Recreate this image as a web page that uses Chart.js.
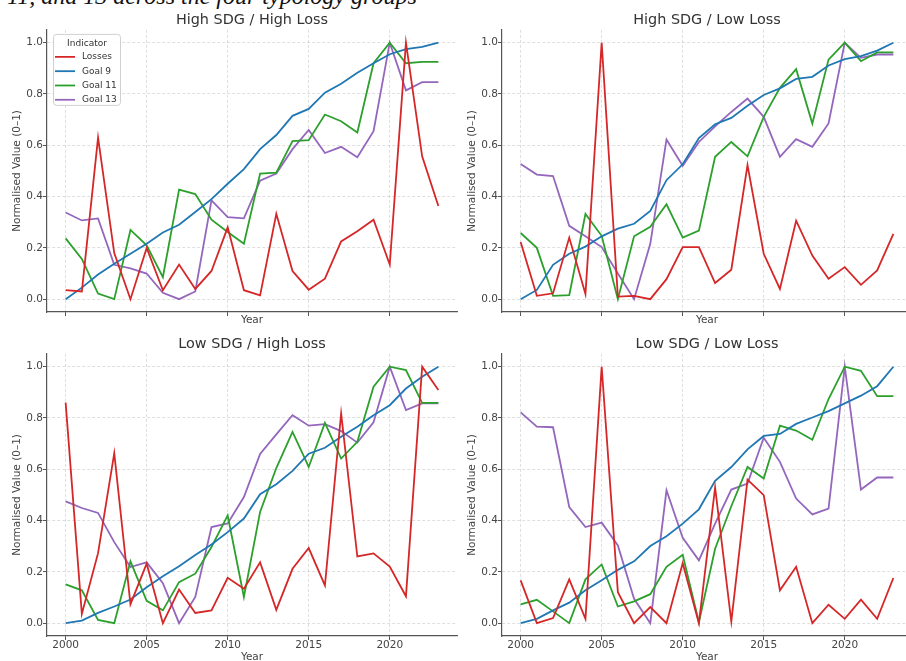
<!DOCTYPE html>
<html>
<head>
<meta charset="utf-8">
<script src="https://cdn.jsdelivr.net/npm/chart.js@4.4.1/dist/chart.umd.min.js"></script>
<style>
  html, body { margin: 0; padding: 0; background: #fff; }
  body { width: 906px; height: 661px; position: relative; overflow: hidden; }
  canvas { position: absolute; }
  #suptitle { position: absolute; left: 7px; top: -16px; font: italic 24px/24px "Liberation Serif", serif; color: #111; white-space: nowrap; }
</style>
</head>
<body>
<div id="suptitle">11, and 13 across the four typology groups</div>
<canvas id="hh" width="458" height="330" style="left:0;top:0"></canvas>
<canvas id="hl" width="458" height="330" style="left:455px;top:0"></canvas>
<canvas id="lh" width="458" height="342" style="left:0;top:324px"></canvas>
<canvas id="ll" width="458" height="342" style="left:455px;top:324px"></canvas>
<script>
const years = [2000, 2001, 2002, 2003, 2004, 2005, 2006, 2007, 2008, 2009, 2010, 2011,
               2012, 2013, 2014, 2015, 2016, 2017, 2018, 2019, 2020, 2021, 2022, 2023];
const xTicks = [2000, 2005, 2010, 2015, 2020];
const yTicks = [0, 0.2, 0.4, 0.6, 0.8, 1.0];
const seriesNames = ['Losses', 'Goal 9', 'Goal 11', 'Goal 13'];

// High SDG / High Loss
const hhLosses = [0.035, 0.03, 0.63, 0.18, 0.0, 0.2, 0.035, 0.135, 0.04, 0.11, 0.28, 0.035,
                  0.015, 0.333, 0.11, 0.037, 0.08, 0.225, 0.265, 0.31, 0.135, 1.0, 0.557, 0.363];
const hhGoal9 = [0.0, 0.045, 0.096, 0.138, 0.177, 0.216, 0.26, 0.29, 0.34, 0.39, 0.45, 0.507,
                 0.585, 0.64, 0.715, 0.742, 0.805, 0.84, 0.883, 0.92, 0.955, 0.975, 0.984, 1.0];
const hhGoal11 = [0.237, 0.157, 0.022, 0.0, 0.27, 0.21, 0.086, 0.427, 0.41, 0.31, 0.262, 0.216,
                  0.49, 0.493, 0.616, 0.62, 0.72, 0.694, 0.65, 0.92, 1.0, 0.92, 0.925, 0.925];
const hhGoal13 = [0.338, 0.307, 0.315, 0.134, 0.12, 0.1, 0.025, 0.0, 0.03, 0.385, 0.32, 0.315,
                  0.462, 0.49, 0.585, 0.66, 0.57, 0.594, 0.553, 0.655, 1.0, 0.814, 0.846, 0.846];

// High SDG / Low Loss
const hlLosses = [0.223, 0.013, 0.023, 0.24, 0.02, 1.0, 0.01, 0.013, 0.0, 0.078, 0.203, 0.203,
                  0.063, 0.115, 0.523, 0.177, 0.04, 0.306, 0.17, 0.08, 0.125, 0.056, 0.112, 0.255];
const hlGoal9 = [0.0, 0.036, 0.134, 0.177, 0.205, 0.245, 0.275, 0.294, 0.344, 0.464, 0.526, 0.628,
                 0.682, 0.707, 0.754, 0.796, 0.822, 0.859, 0.867, 0.911, 0.936, 0.948, 0.969, 1.0];
const hlGoal11 = [0.258, 0.2, 0.013, 0.016, 0.332, 0.247, 0.0, 0.245, 0.282, 0.37, 0.24, 0.267,
                  0.555, 0.613, 0.557, 0.711, 0.824, 0.897, 0.685, 0.934, 1.0, 0.928, 0.962, 0.962];
const hlGoal13 = [0.527, 0.486, 0.48, 0.286, 0.245, 0.203, 0.1, 0.0, 0.216, 0.622, 0.52, 0.613,
                  0.674, 0.73, 0.782, 0.711, 0.555, 0.624, 0.594, 0.685, 1.0, 0.941, 0.954, 0.954];

// Low SDG / High Loss
const lhLosses = [0.86, 0.036, 0.273, 0.663, 0.074, 0.232, 0.0, 0.131, 0.04, 0.05, 0.177, 0.134,
                  0.237, 0.052, 0.212, 0.293, 0.147, 0.818, 0.26, 0.272, 0.221, 0.105, 1.0, 0.909];
const lhGoal9 = [0.0, 0.01, 0.04, 0.065, 0.092, 0.14, 0.183, 0.222, 0.266, 0.307, 0.355, 0.408,
                 0.503, 0.542, 0.594, 0.661, 0.684, 0.727, 0.766, 0.811, 0.85, 0.915, 0.961, 1.0];
const lhGoal11 = [0.151, 0.128, 0.013, 0.0, 0.241, 0.087, 0.05, 0.16, 0.193, 0.297, 0.42, 0.102,
                  0.434, 0.605, 0.746, 0.609, 0.781, 0.642, 0.707, 0.922, 1.0, 0.987, 0.859, 0.859];
const lhGoal13 = [0.475, 0.449, 0.43, 0.316, 0.219, 0.237, 0.156, 0.0, 0.102, 0.375, 0.389, 0.492,
                  0.66, 0.736, 0.811, 0.77, 0.776, 0.749, 0.704, 0.783, 1.0, 0.831, 0.857, 0.857];

// Low SDG / Low Loss
const llLosses = [0.167, 0.0, 0.02, 0.171, 0.017, 1.0, 0.121, 0.0, 0.063, 0.0, 0.234, 0.0,
                  0.529, 0.006, 0.56, 0.499, 0.128, 0.22, 0.0, 0.072, 0.017, 0.092, 0.017, 0.176];
const llGoal9 = [0.0, 0.017, 0.05, 0.08, 0.128, 0.167, 0.208, 0.241, 0.301, 0.339, 0.388, 0.444,
                 0.555, 0.609, 0.678, 0.73, 0.738, 0.777, 0.802, 0.827, 0.857, 0.887, 0.924, 1.0];
const llGoal11 = [0.073, 0.091, 0.046, 0.0, 0.171, 0.229, 0.065, 0.085, 0.113, 0.22, 0.267, 0.004,
                  0.29, 0.456, 0.609, 0.564, 0.77, 0.751, 0.715, 0.874, 1.0, 0.984, 0.885, 0.885];
const llGoal13 = [0.822, 0.766, 0.764, 0.453, 0.375, 0.392, 0.303, 0.095, 0.0, 0.518, 0.333, 0.245,
                  0.388, 0.521, 0.544, 0.723, 0.629, 0.486, 0.424, 0.447, 1.0, 0.521, 0.568, 0.568];

const colors = ['#d62728', '#1f77b4', '#2ca02c', '#9467bd'];
Chart.defaults.font.family = '"DejaVu Sans", sans-serif';

// matplotlib-style legend box inside the axes, drawn on top
const legendBox = {
  id: 'legendBox',
  afterDraw(chart, args, opts) {
    if (!opts.show) return;
    const ctx = chart.ctx;
    const a = chart.chartArea;
    const x = a.left + 6.5, y = a.top + 4.5, w = 67, h = 71;
    ctx.save();
    ctx.beginPath();
    ctx.roundRect(x, y, w, h, 3);
    ctx.fillStyle = 'rgba(255,255,255,0.85)';
    ctx.fill();
    ctx.strokeStyle = '#d0d0d0';
    ctx.lineWidth = 1;
    ctx.stroke();
    ctx.font = '9px "DejaVu Sans"';
    ctx.fillStyle = '#333';
    ctx.textBaseline = 'middle';
    ctx.textAlign = 'center';
    ctx.fillText('Indicator', x + w / 2, y + 9);
    ctx.textAlign = 'left';
    chart.data.datasets.forEach((ds, i) => {
      const cy = y + 22.5 + i * 14.3;
      ctx.beginPath();
      ctx.moveTo(x + 1.5, cy);
      ctx.lineTo(x + 21.5, cy);
      ctx.strokeStyle = ds.borderColor;
      ctx.lineWidth = 1.8;
      ctx.stroke();
      ctx.fillStyle = '#333';
      ctx.fillText(ds.label, x + 28.5, cy);
    });
    ctx.restore();
  }
};

function drawPanel(canvasId, title, values, bottomRow, showLegend) {
  const ctx = document.getElementById(canvasId).getContext('2d');
  const tickFont = { size: 10.5 };
  return new Chart(ctx, {
    type: 'line',
    data: {
      datasets: values.map((vals, i) => ({
        label: seriesNames[i],
        data: years.map((yr, j) => ({ x: yr, y: vals[j] })),
        borderColor: colors[i],
        backgroundColor: colors[i],
        borderWidth: 1.8,
        pointRadius: 0,
        tension: 0,
        fill: false
      }))
    },
    options: {
      responsive: false,
      animation: false,
      layout: { padding: { left: 0, right: 1, top: 0, bottom: 0 } },
      plugins: {
        legend: { display: false },
        tooltip: { enabled: false },
        title: {
          display: true, text: title, fullSize: false, color: '#333',
          font: { size: 14.4, weight: 'normal' },
          padding: { top: 11.5, bottom: 1.1 }
        },
        legendBox: { show: showLegend }
      },
      scales: {
        x: {
          type: 'linear',
          min: 1998.85,
          max: 2024.15,
          afterBuildTicks: s => { s.ticks = xTicks.map(v => ({ value: v })); },
          afterFit: s => { s.height = bottomRow ? 30 : 18; },
          ticks: { display: bottomRow, font: tickFont, color: '#444', padding: -1.5, maxRotation: 0, callback: v => String(v) },
          grid: { color: 'rgba(0,0,0,0.16)', lineWidth: 0.8, tickLength: 4, tickColor: '#555', tickWidth: 1 },
          border: { color: '#555', width: 1.2, dash: [3, 2] },
          title: { display: true, text: 'Year', color: '#444', font: { size: 10.5 }, padding: { top: 0, bottom: bottomRow ? 2.2 : 3 } }
        },
        y: {
          min: -0.05,
          max: 1.05,
          afterBuildTicks: s => { s.ticks = yTicks.map(v => ({ value: v })); },
          afterFit: s => { s.width = 47; },
          ticks: { font: tickFont, color: '#444', padding: 0, callback: v => v.toFixed(1) },
          grid: { color: 'rgba(0,0,0,0.16)', lineWidth: 0.8, tickLength: 4, tickColor: '#555', tickWidth: 1 },
          border: { color: '#555', width: 1.2, dash: [3, 2] },
          title: { display: true, text: 'Normalised Value (0–1)', color: '#444', font: { size: 10.5 }, padding: { top: 10.7, bottom: 0 } }
        }
      }
    },
    plugins: [legendBox]
  });
}

drawPanel('hh', 'High SDG / High Loss', [hhLosses, hhGoal9, hhGoal11, hhGoal13], false, true);
drawPanel('hl', 'High SDG / Low Loss', [hlLosses, hlGoal9, hlGoal11, hlGoal13], false, false);
drawPanel('lh', 'Low SDG / High Loss', [lhLosses, lhGoal9, lhGoal11, lhGoal13], true, false);
drawPanel('ll', 'Low SDG / Low Loss', [llLosses, llGoal9, llGoal11, llGoal13], true, false);
</script>
</body>
</html>
